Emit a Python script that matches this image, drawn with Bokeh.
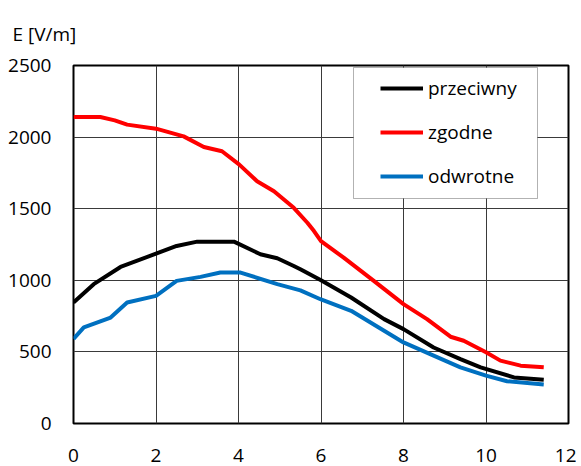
from bokeh.plotting import figure
from bokeh.models import Legend, LegendItem, BoxAnnotation, Title, Range1d, FixedTicker
from bokeh.embed import file_html
from bokeh.resources import INLINE

# ---- data ----
x_zgodne = [0, 0.65, 1.0, 1.3, 2.0, 2.67, 3.16, 3.6, 4.02, 4.45, 4.86, 5.34, 5.67, 5.83, 6.0,
            6.55, 7.28, 8.0, 8.57, 9.14, 9.46, 10.0, 10.35, 10.84, 11.4]
y_zgodne = [2140, 2140, 2117, 2087, 2059, 2005, 1931, 1901, 1808, 1692, 1622, 1506, 1402, 1344, 1274,
            1158, 996, 834, 729, 606, 578, 497, 439, 404, 392]

x_przeciwny = [0, 0.49, 1.14, 2.0, 2.5, 3.0, 3.89, 4.53, 4.94, 5.34, 5.5, 6.0, 6.73, 7.53, 8.0,
               8.73, 9.38, 9.87, 10.68, 11.4]
y_przeciwny = [845, 973, 1093, 1186, 1240, 1270, 1270, 1182, 1154, 1100, 1077, 1000, 880, 729, 659,
               531, 450, 392, 322, 306]

x_odwrotne = [0, 0.25, 0.9, 1.3, 2.0, 2.5, 3.08, 3.56, 4.05, 4.94, 5.5, 6.0, 6.73, 8.0,
              8.73, 9.38, 10.0, 10.51, 11.4]
y_odwrotne = [590, 671, 740, 845, 891, 996, 1024, 1054, 1054, 973, 930, 866, 787, 566,
              474, 392, 334, 295, 272]

x_ticks = [0, 2, 4, 6, 8, 10, 12]
y_ticks = [0, 500, 1000, 1500, 2000, 2500]
y_title = "E [V/m]"

FONT = "Open Sans"

p = figure(width=576, height=466, output_backend="svg", toolbar_location=None,
           x_range=Range1d(0, 12), y_range=Range1d(0, 2500),
           min_border_left=73, min_border_right=8, min_border_top=64, min_border_bottom=43)
p.background_fill_color = "white"
p.border_fill_color = "white"
p.outline_line_color = "black"
p.outline_line_width = 2

for ax in (p.xaxis[0], p.yaxis[0]):
    ax.axis_line_color = None
    ax.major_tick_line_color = None
    ax.minor_tick_line_color = None
    ax.major_label_text_font = FONT
    ax.major_label_text_font_size = "19px"
    ax.major_label_text_color = "black"

p.xaxis[0].ticker = FixedTicker(ticks=x_ticks)
p.yaxis[0].ticker = FixedTicker(ticks=y_ticks)
p.xaxis[0].major_label_standoff = 19
p.yaxis[0].major_label_standoff = 16

p.xgrid[0].ticker = FixedTicker(ticks=x_ticks)
p.ygrid[0].ticker = FixedTicker(ticks=y_ticks)
for g in (p.xgrid[0], p.ygrid[0]):
    g.grid_line_color = "#3a3a3a"
    g.grid_line_width = 1

r1 = p.line(x_przeciwny, y_przeciwny, line_color="black", line_width=4)
r2 = p.line(x_zgodne, y_zgodne, line_color="#ff0000", line_width=4)
r3 = p.line(x_odwrotne, y_odwrotne, line_color="#0070c0", line_width=4)

# legend frame (frame-relative screen units)
box = BoxAnnotation(left=280, right=464, bottom=225, top=356,
                    left_units="screen", right_units="screen",
                    bottom_units="screen", top_units="screen",
                    fill_color="white", fill_alpha=1.0,
                    line_color="black", line_width=1)
p.add_layout(box)

legend = Legend(items=[LegendItem(label="przeciwny", renderers=[r1]),
                       LegendItem(label="zgodne", renderers=[r2]),
                       LegendItem(label="odwrotne", renderers=[r3])],
                location=(307, 233), padding=0, margin=0, spacing=16,
                glyph_width=43, glyph_height=28, label_height=28, label_standoff=5,
                label_text_font=FONT, label_text_font_size="19px",
                label_text_color="black",
                border_line_alpha=0, background_fill_alpha=0)
p.add_layout(legend, "center")

title = Title(text=y_title, align="left", offset=-61, standoff=37,
              text_font=FONT, text_font_size="19px", text_font_style="normal",
              text_color="black")
p.add_layout(title, "above")

open("out.html", "w").write(file_html(p, INLINE))
